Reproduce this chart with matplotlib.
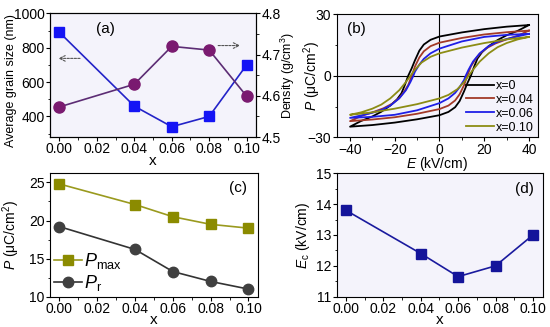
import matplotlib
matplotlib.use("Agg")
import matplotlib.pyplot as plt
from matplotlib.ticker import MultipleLocator, FormatStrFormatter
import numpy as np

plt.rcParams['font.family'] = ['Liberation Sans', 'DejaVu Sans']
plt.rcParams['mathtext.fontset'] = 'custom'
plt.rcParams['mathtext.rm'] = 'Liberation Sans'
plt.rcParams['mathtext.it'] = 'Liberation Sans:italic'
plt.rcParams['font.size'] = 10

# composition
x = [0.00, 0.04, 0.06, 0.08, 0.10]

# (a) grain size and density
grain = [890, 460, 340, 400, 700]
density = [4.573, 4.628, 4.720, 4.711, 4.599]

# (c) polarization
p_max = [24.8, 22.1, 20.5, 19.5, 19.0]
p_r = [19.2, 16.2, 13.3, 12.0, 11.0]

# (d) coercive field
e_c = [13.8, 12.4, 11.65, 12.0, 13.0]

# (b) upper (descending) branch of each loop, E from +40 to -40
loop_labels = ['x=0', 'x=0.04', 'x=0.06', 'x=0.10']
loop_e = {
    'x=0':    [40, 30, 20, 10, 0, -4, -7, -9, -11, -12.5, -14, -15.5, -17, -19, -22, -26, -30, -35, -40],
    'x=0.04': [40, 30, 20, 10, 0, -4, -7, -9, -11, -12.4, -14, -16, -18, -21, -25, -30, -35, -40],
    'x=0.06': [40, 30, 20, 10, 0, -4, -7, -9, -11, -11.7, -13, -15, -18, -22, -26, -30, -35, -40],
    'x=0.10': [40, 30, 20, 10, 0, -4, -8, -11, -13, -15, -18, -22, -26, -30, -35, -40],
}
loop_p = {
    'x=0':    [24.8, 24.0, 22.8, 21.2, 19.2, 17.6, 15.3, 12.3, 7.5, 3.5, 0, -4.5, -8.5, -11.5, -14.5, -17.5, -19.8, -22.0, -24.8],
    'x=0.04': [22.1, 21.3, 20.2, 18.5, 16.2, 14.5, 12.0, 9.0, 4.5, 0, -4.5, -8.0, -10.8, -13.5, -15.8, -17.8, -19.6, -22.1],
    'x=0.06': [20.5, 20.0, 19.0, 16.8, 13.3, 11.0, 8.3, 5.5, 2.0, 0, -3.0, -7.0, -11.0, -14.5, -16.7, -18.0, -19.3, -20.5],
    'x=0.10': [19.0, 17.8, 16.0, 13.8, 11.0, 9.3, 6.5, 3.0, 0, -3.0, -7.0, -11.0, -14.0, -16.0, -17.8, -19.0],
}
loop_colors = {'x=0': '#000000', 'x=0.04': '#a33a28', 'x=0.06': '#1f1fe6', 'x=0.10': '#8c8c14'}

bg = '#f4f3fb'
fig = plt.figure(figsize=(5.5, 3.27), dpi=100)

def style(ax):
    ax.tick_params(direction='out', length=3, width=0.8, pad=0.8, labelsize=10)
    ax.tick_params(which='minor', direction='out', length=1.8, width=0.6)
    for s in ax.spines.values():
        s.set_linewidth(0.8)

def x_axis(ax):
    ax.xaxis.set_major_locator(MultipleLocator(0.02))
    ax.xaxis.set_minor_locator(MultipleLocator(0.01))
    ax.xaxis.set_major_formatter(FormatStrFormatter('%.2f'))
    ax.set_xlabel('x', fontsize=11, labelpad=-2)

# ---- (a)
ax_a = fig.add_axes([0.0909, 0.581, 0.3746, 0.378])
ax_a.set_facecolor(bg)
ax_a.plot(x, grain, '-s', color='#2323c8', mfc='#1414f5', mec='#1414f5', ms=7.5, lw=1.2, zorder=3)
ax_a.set_xlim(-0.005, 0.105)
ax_a.set_ylim(280, 1000)
x_axis(ax_a)
ax_a.yaxis.set_major_locator(MultipleLocator(200))
ax_a.yaxis.set_minor_locator(MultipleLocator(100))
ax_a.set_ylabel('Average grain size (nm)', fontsize=9)
ax_a.yaxis.set_label_coords(-0.16, 0.46)
ax_a.text(0.267, 0.87, '(a)', transform=ax_a.transAxes, ha='center', va='center', fontsize=11)
ax_a.annotate('', xy=(-0.002, 738), xytext=(0.0125, 738),
              arrowprops=dict(arrowstyle='->', linestyle=(0, (2, 1.2)), color='#555555', lw=0.8))
style(ax_a)

ax_a2 = ax_a.twinx()
ax_a2.plot(x, density, '-o', color='#5c2c74', mfc='#7a1a70', mec='#7a1a70', ms=8, lw=1.2, zorder=3)
ax_a2.set_ylim(4.5, 4.8)
ax_a2.yaxis.set_major_locator(MultipleLocator(0.1))
ax_a2.yaxis.set_minor_locator(MultipleLocator(0.05))
ax_a2.set_ylabel('Density (g/cm$^3$)', fontsize=9)
ax_a2.yaxis.set_label_coords(1.112, 0.5)
ax_a2.annotate('', xy=(0.098, 4.722), xytext=(0.0833, 4.722),
               arrowprops=dict(arrowstyle='->', linestyle=(0, (2, 1.2)), color='#555555', lw=0.8))
style(ax_a2)

# ---- (b)
ax_b = fig.add_axes([0.612, 0.580, 0.366, 0.376])
ax_b.set_facecolor(bg)
ax_b.axhline(0, color='black', lw=0.8, zorder=1)
ax_b.axvline(0, color='black', lw=0.8, zorder=1)
for lab in loop_labels:
    e_up = np.array(loop_e[lab])
    p_up = np.array(loop_p[lab])
    # ascending branch is the point reflection of the descending one
    e_loop = np.concatenate([e_up, -e_up[1:]])
    p_loop = np.concatenate([p_up, -p_up[1:]])
    ax_b.plot(e_loop, p_loop, color=loop_colors[lab], lw=1.3, label=lab, zorder=2)
ax_b.set_xlim(-46, 44)
ax_b.set_ylim(-30, 30)
ax_b.xaxis.set_major_locator(MultipleLocator(20))
ax_b.xaxis.set_minor_locator(MultipleLocator(10))
ax_b.yaxis.set_major_locator(MultipleLocator(30))
ax_b.yaxis.set_minor_locator(MultipleLocator(15))
ax_b.set_xlabel(r'$\mathit{E}$ (kV/cm)', fontsize=10, labelpad=-1.5)
ax_b.set_ylabel(r'$\mathit{P}$ (μC/cm$^2$)', fontsize=10)
ax_b.yaxis.set_label_coords(-0.068, 0.5)
ax_b.text(0.096, 0.885, '(b)', transform=ax_b.transAxes, ha='center', va='center', fontsize=11)
ax_b.legend(loc='lower right', frameon=False, fontsize=9, handlelength=2.2, handletextpad=0.2,
            labelspacing=0.15, borderaxespad=0.2, borderpad=0.1)
style(ax_b)

# ---- (c)
ax_c = fig.add_axes([0.0909, 0.0927, 0.378, 0.3773])
ax_c.plot(x, p_max, '-s', color='#9a9a1e', mfc='#8b8b00', mec='#8b8b00', ms=7, lw=1.2,
          label=r'$\mathit{P}_{\mathrm{max}}$')
ax_c.plot(x, p_r, '-o', color='#333333', mfc='#404040', mec='#404040', ms=7.5, lw=1.2,
          label=r'$\mathit{P}_{\mathrm{r}}$')
ax_c.set_xlim(-0.005, 0.105)
ax_c.set_ylim(10, 26.2)
x_axis(ax_c)
ax_c.yaxis.set_major_locator(MultipleLocator(5))
ax_c.yaxis.set_minor_locator(MultipleLocator(2.5))
ax_c.set_ylabel(r'$\mathit{P}$ (μC/cm$^2$)', fontsize=10)
ax_c.yaxis.set_label_coords(-0.135, 0.5)
ax_c.text(0.906, 0.877, '(c)', transform=ax_c.transAxes, ha='center', va='center', fontsize=11)
ax_c.legend(loc='lower left', frameon=False, fontsize=13, handlelength=1.6, handletextpad=0.1,
            labelspacing=0.1, borderaxespad=0.1, borderpad=0.1)
style(ax_c)

# ---- (d)
ax_d = fig.add_axes([0.612, 0.0927, 0.375, 0.3773])
ax_d.set_facecolor(bg)
ax_d.plot(x, e_c, '-s', color='#1a1a9e', mfc='#14149a', mec='#14149a', ms=7, lw=1.2)
ax_d.set_xlim(-0.005, 0.1053)
ax_d.set_ylim(11, 15)
x_axis(ax_d)
ax_d.yaxis.set_major_locator(MultipleLocator(1))
ax_d.yaxis.set_minor_locator(MultipleLocator(0.5))
ax_d.set_ylabel(r'$\mathit{E}_{\mathrm{c}}$ (kV/cm)', fontsize=10)
ax_d.yaxis.set_label_coords(-0.12, 0.5)
ax_d.text(0.909, 0.873, '(d)', transform=ax_d.transAxes, ha='center', va='center', fontsize=11)
style(ax_d)

fig.savefig('out.png', dpi=100)
